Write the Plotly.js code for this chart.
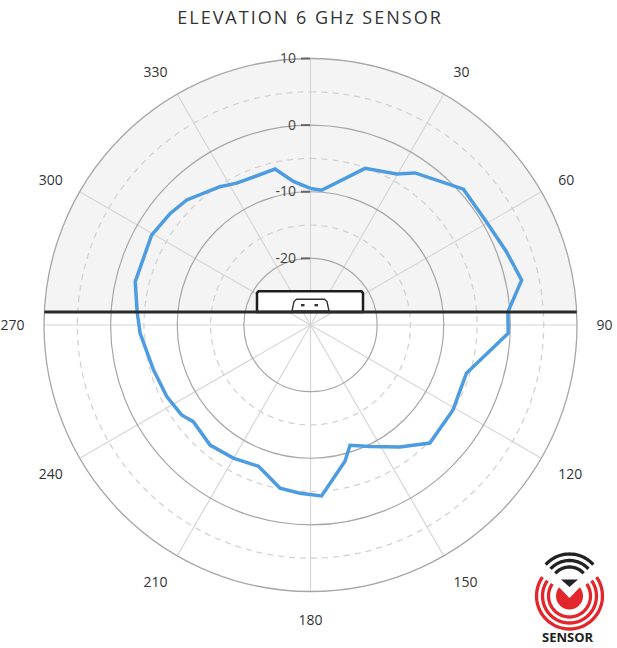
<!DOCTYPE html>
<html><head><meta charset="utf-8">
<script src="https://cdn.plot.ly/plotly-3.0.1.min.js"></script>
<style>html,body{margin:0;padding:0;background:#fff}
.gtitle{letter-spacing:2px}</style>
</head><body><div id="chart" style="width:617px;height:648px"></div>
<script>
// ---- data ----
const theta = [0, 4.7, 19.2, 29.7, 34.5, 48.4, 59.6, 69.5, 78, 86.2, 92.4, 107.2, 120.8, 134.7, 143.8, 153.9, 161.8, 165.8, 176.3, 183.6, 190.6, 200.2, 210.1, 219.9, 230.5, 235.1, 243.5, 254, 267.2, 274.4, 283.9, 299.5, 308.5, 315.3, 326.8, 332.5, 347.2, 353.2, 360];
const gain = [-9.5, -9.7, -5.1, -3.9, -2.3, 0.7, 0.6, 1.4, 2.4, -0.3, -0.3, -5.5, -5.1, -4.8, -7.3, -9.7, -11.0, -8.9, -4.3, -4.7, -5.1, -7.4, -6.9, -6.5, -7.2, -6.4, -5.9, -5.5, -4.4, -3.9, -2.9, -2.6, -3.1, -3.6, -5.2, -6.0, -6.0, -8.3, -9.5];
const angleTicks = [0, 30, 60, 90, 120, 150, 180, 210, 240, 270, 300, 330];
const angleTickText = ['', '30', '60', '90', '120', '150', '180', '210', '240', '270', '300', '330'];
const radialTicks = [-20, -10, 0, 10];
const radialTickText = ['-20', '-10', '0', '10'];
const dashedRings = [5, -5, -15];
const radialRange = [-30, 10];
const chartTitle = 'ELEVATION 6 GHz SENSOR';
const logoText = 'SENSOR';

// ---- layout geometry (pixels) ----
const W = 617, H = 648, CX = 310.5, CY = 325, R = 266.5;
const X = px => px / W, Y = py => (H - py) / H;
const P = pts => pts.map((p, i) => (i ? 'L' : 'M') + X(p[0]).toFixed(5) + ',' + Y(p[1]).toFixed(5)).join(' ');
function arcPts(cx, cy, r, a0, a1) {
  const pts = [];
  const n = 40;
  for (let i = 0; i <= n; i++) {
    const a = (a0 + (a1 - a0) * i / n) * Math.PI / 180;
    pts.push([cx + r * Math.sin(a), cy - r * Math.cos(a)]);
  }
  return pts;
}

const ringTheta = [];
for (let t = 0; t <= 360; t += 2) ringTheta.push(t);

const traces = dashedRings.map(rv => ({
  type: 'scatterpolar', mode: 'lines',
  r: ringTheta.map(() => rv), theta: ringTheta,
  line: {color: '#d2d2d2', width: 1.3, dash: '6px,5px'},
  hoverinfo: 'skip', showlegend: false
}));
traces.push({
  type: 'scatterpolar', mode: 'lines',
  r: gain, theta: theta,
  line: {color: '#4d9be0', width: 3.5},
  showlegend: false
});

const shapes = [];
shapes.push({type: 'circle', xref: 'paper', yref: 'paper', x0: X(CX - R), x1: X(CX + R), y0: Y(CY + R), y1: Y(CY - R),
  fillcolor: '#f4f4f4', line: {width: 0}, layer: 'below'});
shapes.push({type: 'rect', xref: 'paper', yref: 'paper', x0: 0, x1: 1, y0: 0, y1: Y(312),
  fillcolor: '#ffffff', line: {width: 0}, layer: 'below'});
const half = Math.sqrt(R * R - 13 * 13);
shapes.push({type: 'path', xref: 'paper', yref: 'paper',
  path: P([[257, 312], [257, 293], [258.5, 291.3], [361.5, 291.3], [363, 293], [363, 312]]) + ' Z',
  fillcolor: '#ffffff', line: {color: '#1e1e1e', width: 2.5}, layer: 'above'});
shapes.push({type: 'path', xref: 'paper', yref: 'paper',
  path: P([[292, 311], [294, 301.5], [296.5, 299.3], [324.5, 299.3], [327, 301.5], [329, 311]]) + ' Z',
  fillcolor: '#ffffff', line: {color: '#333333', width: 1.4}, layer: 'above'});
[[301, 304], [314.5, 304]].forEach(d => shapes.push({type: 'rect', xref: 'paper', yref: 'paper',
  x0: X(d[0]), x1: X(d[0] + 3.5), y0: Y(d[1] + 2.4), y1: Y(d[1]),
  fillcolor: '#333333', line: {width: 0}, layer: 'above'}));
shapes.push({type: 'line', xref: 'paper', yref: 'paper', x0: X(CX - half), x1: X(CX + half), y0: Y(312), y1: Y(312),
  line: {color: '#2a2a2a', width: 3}, layer: 'above'});

// logo
const LX = 569.5, LY = 596;
[33, 27, 21].forEach(r => shapes.push({type: 'path', xref: 'paper', yref: 'paper',
  path: P(arcPts(LX, LY, r, 55, 305)), line: {color: '#e2262b', width: 3.3}, layer: 'above'}));
shapes.push({type: 'circle', xref: 'paper', yref: 'paper', x0: X(LX - 13.5), x1: X(LX + 13.5), y0: Y(LY + 13.5), y1: Y(LY - 13.5),
  fillcolor: '#e2262b', line: {width: 0}, layer: 'above'});
shapes.push({type: 'path', xref: 'paper', yref: 'paper',
  path: P([[555, 583], [LX, 598], [584, 583]]) + ' Z', fillcolor: '#ffffff', line: {width: 0}, layer: 'above'});
shapes.push({type: 'path', xref: 'paper', yref: 'paper',
  path: P([[561, 579.5], [578, 579.5], [LX, 587]]) + ' Z', fillcolor: '#222222', line: {width: 0}, layer: 'above'});
[32, 25.5, 19].forEach(r => shapes.push({type: 'path', xref: 'paper', yref: 'paper',
  path: P(arcPts(LX, 586, r, -48, 48)), line: {color: '#222222', width: 3.3}, layer: 'above'}));

const layout = {
  width: W, height: H,
  margin: {l: 0, r: 0, t: 0, b: 0},
  paper_bgcolor: '#ffffff',
  showlegend: false,
  title: {text: chartTitle, x: 310 / W, xanchor: 'center', y: 1 - 18 / H, yanchor: 'middle',
    font: {family: 'Open Sans', size: 18, color: '#333333'}},
  polar: {
    domain: {x: [X(CX - R), X(CX + R)], y: [Y(CY + R), Y(CY - R)]},
    bgcolor: 'rgba(0,0,0,0)',
    radialaxis: {
      range: radialRange, tickvals: radialTicks, ticktext: radialTickText,
      angle: 90, tickangle: 90, side: 'counterclockwise',
      showline: false, ticks: 'outside', ticklen: 9, tickwidth: 2, tickcolor: '#666666',
      gridcolor: '#a6a6a6', gridwidth: 1.2,
      tickfont: {family: 'Open Sans', size: 14, color: '#444444'}
    },
    angularaxis: {
      direction: 'clockwise', rotation: 90,
      tickvals: angleTicks, ticktext: angleTickText,
      showline: true, linecolor: '#a6a6a6', linewidth: 1.3,
      gridcolor: '#d6d6d6', gridwidth: 1.2,
      ticks: 'outside', ticklen: 16, tickcolor: 'rgba(0,0,0,0)',
      tickfont: {family: 'Open Sans', size: 14, color: '#333333'}
    }
  },
  shapes: shapes,
  annotations: [{text: '<b>' + logoText + '</b>', xref: 'paper', yref: 'paper', x: X(568), y: Y(637),
    showarrow: false, xanchor: 'center', yanchor: 'middle',
    font: {family: 'Open Sans', size: 13, color: '#1e1e1e'}}]
};

Plotly.newPlot('chart', traces, layout, {displayModeBar: false, staticPlot: true});
</script>
</body></html>
